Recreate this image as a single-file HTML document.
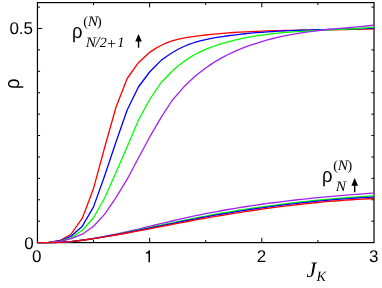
<!DOCTYPE html>
<html><head><meta charset="utf-8"><title>plot</title>
<style>
html,body{margin:0;padding:0;background:#fff;}
body{width:382px;height:288px;overflow:hidden;position:relative;font-family:"Liberation Sans",sans-serif;color:#000;text-rendering:geometricPrecision;}
svg{position:absolute;left:0;top:0;}
.t{position:absolute;line-height:1;white-space:nowrap;}
.r{font-family:"Liberation Serif",serif;font-style:normal;}
</style></head><body>
<svg width="382" height="288" viewBox="0 0 382 288">
<rect x="0" y="0" width="382" height="288" fill="#fff"/>
<rect x="37.45" y="2.6" width="336.55" height="240.0" fill="none" stroke="#000" stroke-width="1.2"/>
<path d="M37.45,221.19h2.6 M374.0,221.19h-2.6 M37.45,199.78h2.6 M374.0,199.78h-2.6 M37.45,178.37h2.6 M374.0,178.37h-2.6 M37.45,156.96h2.6 M374.0,156.96h-2.6 M37.45,135.55h2.6 M374.0,135.55h-2.6 M37.45,114.14h2.6 M374.0,114.14h-2.6 M37.45,92.73h2.6 M374.0,92.73h-2.6 M37.45,71.32h2.6 M374.0,71.32h-2.6 M37.45,49.91h2.6 M374.0,49.91h-2.6 M37.45,28.50h4.8 M374.0,28.50h-4.8 M37.45,7.09h2.6 M374.0,7.09h-2.6 M93.54,242.6v-2.6 M93.54,2.6v2.6 M149.63,242.6v-4.8 M149.63,2.6v4.8 M205.72,242.6v-2.6 M205.72,2.6v2.6 M261.81,242.6v-4.8 M261.81,2.6v4.8 M317.90,242.6v-2.6 M317.90,2.6v2.6" stroke="#000" stroke-width="1" fill="none"/>
<g fill="none" stroke-width="1.3" stroke-linejoin="round" stroke-linecap="butt">
<path d="M37.45,242.60 L48.67,242.30 L59.89,240.50 L71.10,234.20 L82.32,218.20 L93.54,188.40 L104.76,147.00 L115.98,107.30 L127.19,78.50 L138.41,62.70 L149.63,52.34 L155.24,48.65 L160.85,45.50 L166.46,42.92 L172.07,40.89 L177.68,39.32 L183.28,38.10 L188.89,37.14 L194.50,36.35 L200.11,35.64 L205.72,34.99 L211.33,34.40 L216.94,33.86 L222.55,33.36 L228.16,32.92 L233.77,32.52 L239.37,32.17 L244.98,31.85 L250.59,31.57 L256.20,31.32 L261.81,31.10 L267.42,30.91 L273.03,30.75 L278.64,30.61 L284.25,30.48 L289.86,30.38 L295.46,30.28 L301.07,30.20 L306.68,30.12 L312.29,30.05 L317.90,29.98 L323.51,29.92 L329.12,29.84 L334.73,29.76 L340.34,29.68 L345.95,29.58 L351.55,29.46 L357.16,29.33 L362.77,29.17 L368.38,29.00 L373.99,28.79 L374.00,28.79" stroke="#ff0000"/>
<path d="M37.45,242.60 L48.67,242.40 L59.89,241.00 L71.10,236.20 L82.32,226.20 L93.54,206.90 L104.76,175.50 L115.98,142.00 L127.19,110.00 L138.41,87.00 L149.63,72.00 L160.85,60.60 L166.46,56.44 L172.07,52.77 L177.68,49.52 L183.28,46.76 L188.89,44.44 L194.50,42.49 L200.11,40.88 L205.72,39.53 L211.33,38.40 L216.94,37.42 L222.55,36.56 L228.16,35.76 L233.77,35.03 L239.37,34.37 L244.98,33.76 L250.59,33.22 L256.20,32.72 L261.81,32.28 L267.42,31.88 L273.03,31.53 L278.64,31.21 L284.25,30.92 L289.86,30.67 L295.46,30.45 L301.07,30.25 L306.68,30.06 L312.29,29.90 L317.90,29.75 L323.51,29.60 L329.12,29.47 L334.73,29.33 L340.34,29.19 L345.95,29.05 L351.55,28.89 L357.16,28.73 L362.77,28.54 L368.38,28.34 L373.99,28.11 L374.00,28.11" stroke="#0000ff"/>
<path d="M37.45,242.60 L48.67,242.40 L59.89,241.30 L71.10,237.90 L82.32,230.30 L93.54,217.80 L104.76,197.70 L115.98,172.50 L127.19,146.70 L138.41,120.30 L149.63,99.50 L160.85,83.00 L172.07,71.27 L177.68,66.32 L183.28,61.92 L188.89,58.09 L194.50,54.76 L200.11,51.88 L205.72,49.37 L211.33,47.17 L216.94,45.24 L222.55,43.49 L228.16,41.90 L233.77,40.45 L239.37,39.14 L244.98,37.95 L250.59,36.89 L256.20,35.94 L261.81,35.09 L267.42,34.34 L273.03,33.67 L278.64,33.08 L284.25,32.56 L289.86,32.11 L295.46,31.71 L301.07,31.35 L306.68,31.04 L312.29,30.75 L317.90,30.48 L323.51,30.22 L329.12,29.97 L334.73,29.72 L340.34,29.45 L345.95,29.16 L351.55,28.85 L357.16,28.49 L362.77,28.09 L368.38,27.64 L373.99,27.13 L374.00,27.13" stroke="#00ff00"/>
<path d="M37.45,242.60 L48.67,242.40 L59.89,241.50 L71.10,238.70 L82.32,234.20 L93.54,226.20 L104.76,214.10 L115.98,197.70 L127.19,179.20 L138.41,158.00 L149.63,137.20 L160.85,117.90 L172.07,100.50 L183.28,87.57 L188.89,81.99 L194.50,76.85 L200.11,72.20 L205.72,67.95 L211.33,64.09 L216.94,60.57 L222.55,57.38 L228.16,54.47 L233.77,51.82 L239.37,49.41 L244.98,47.19 L250.59,45.15 L256.20,43.27 L261.81,41.54 L267.42,39.95 L273.03,38.50 L278.64,37.18 L284.25,35.97 L289.86,34.87 L295.46,33.86 L301.07,32.95 L306.68,32.12 L312.29,31.36 L317.90,30.66 L323.51,30.02 L329.12,29.43 L334.73,28.86 L340.34,28.33 L345.95,27.82 L351.55,27.31 L357.16,26.80 L362.77,26.29 L368.38,25.76 L373.99,25.20 L374.00,25.20" stroke="#a020f0"/>
<path d="M37.45,242.60 L48.67,242.55 L59.89,242.30 L71.10,241.60 L82.32,240.20 L87.93,239.37 L93.54,238.42 L99.15,237.42 L104.76,236.35 L110.37,235.23 L115.98,234.06 L121.58,232.85 L127.19,231.60 L132.80,230.32 L138.41,229.01 L144.02,227.68 L149.63,226.35 L155.24,225.00 L160.85,223.66 L166.46,222.33 L172.07,221.00 L177.67,219.70 L183.28,218.42 L188.89,217.18 L194.50,215.97 L200.11,214.80 L205.72,213.67 L211.33,212.57 L216.94,211.52 L222.55,210.49 L228.16,209.51 L233.76,208.55 L239.37,207.63 L244.98,206.74 L250.59,205.88 L256.20,205.05 L261.81,204.25 L267.42,203.48 L273.03,202.74 L278.64,202.02 L284.25,201.33 L289.85,200.66 L295.46,200.02 L301.07,199.40 L306.68,198.80 L312.29,198.22 L317.90,197.67 L323.51,197.13 L329.12,196.62 L334.73,196.12 L340.34,195.63 L345.94,195.17 L351.55,194.72 L357.16,194.28 L362.77,193.86 L368.38,193.44 L373.99,193.05 L374.00,193.04" stroke="#a020f0"/>
<path d="M37.45,242.60 L48.67,242.55 L59.89,242.30 L71.10,241.60 L82.32,240.24 L87.93,239.43 L93.54,238.53 L99.15,237.60 L104.76,236.62 L110.37,235.60 L115.98,234.54 L121.58,233.44 L127.19,232.32 L132.80,231.17 L138.41,230.00 L144.02,228.81 L149.63,227.61 L155.24,226.40 L160.85,225.20 L166.46,223.99 L172.07,222.80 L177.67,221.61 L183.28,220.44 L188.89,219.30 L194.50,218.18 L200.11,217.09 L205.72,216.02 L211.33,214.98 L216.94,213.97 L222.55,212.99 L228.16,212.03 L233.76,211.10 L239.37,210.19 L244.98,209.31 L250.59,208.46 L256.20,207.63 L261.81,206.82 L267.42,206.05 L273.03,205.29 L278.64,204.57 L284.25,203.86 L289.85,203.19 L295.46,202.53 L301.07,201.91 L306.68,201.30 L312.29,200.72 L317.90,200.17 L323.51,199.63 L329.12,199.12 L334.73,198.64 L340.34,198.18 L345.94,197.74 L351.55,197.32 L357.16,196.93 L362.77,196.56 L368.38,196.21 L373.99,195.89 L374.00,195.89" stroke="#00ff00"/>
<path d="M37.45,242.60 L48.67,242.55 L59.89,242.30 L71.10,241.60 L82.32,240.25 L87.93,239.45 L93.54,238.58 L99.15,237.68 L104.76,236.73 L110.37,235.75 L115.98,234.74 L121.58,233.69 L127.19,232.61 L132.80,231.51 L138.41,230.40 L144.02,229.26 L149.63,228.12 L155.24,226.97 L160.85,225.82 L166.46,224.66 L172.07,223.52 L177.67,222.38 L183.28,221.26 L188.89,220.15 L194.50,219.07 L200.11,218.01 L205.72,216.97 L211.33,215.95 L216.94,214.96 L222.55,213.99 L228.16,213.04 L233.76,212.12 L239.37,211.22 L244.98,210.35 L250.59,209.49 L256.20,208.67 L261.81,207.86 L267.42,207.08 L273.03,206.33 L278.64,205.60 L284.25,204.89 L289.85,204.21 L295.46,203.55 L301.07,202.92 L306.68,202.31 L312.29,201.73 L317.90,201.18 L323.51,200.65 L329.12,200.14 L334.73,199.66 L340.34,199.21 L345.94,198.78 L351.55,198.38 L357.16,198.00 L362.77,197.65 L368.38,197.33 L373.99,197.03 L374.00,197.03" stroke="#0000ff"/>
<path d="M37.45,242.60 L48.67,242.55 L59.89,242.30 L71.10,241.60 L82.32,240.27 L87.93,239.49 L93.54,238.64 L99.15,237.78 L104.76,236.88 L110.37,235.95 L115.98,234.99 L121.58,234.00 L127.19,232.99 L132.80,231.96 L138.41,230.91 L144.02,229.85 L149.63,228.78 L155.24,227.69 L160.85,226.61 L166.46,225.53 L172.07,224.44 L177.67,223.37 L183.28,222.30 L188.89,221.25 L194.50,220.21 L200.11,219.19 L205.72,218.18 L211.33,217.20 L216.94,216.23 L222.55,215.28 L228.16,214.35 L233.76,213.44 L239.37,212.55 L244.98,211.68 L250.59,210.83 L256.20,210.00 L261.81,209.20 L267.42,208.42 L273.03,207.66 L278.64,206.92 L284.25,206.21 L289.85,205.53 L295.46,204.86 L301.07,204.23 L306.68,203.62 L312.29,203.04 L317.90,202.48 L323.51,201.95 L329.12,201.45 L334.73,200.98 L340.34,200.53 L345.94,200.12 L351.55,199.73 L357.16,199.38 L362.77,199.06 L368.38,198.76 L373.99,198.50 L374.00,198.50" stroke="#ff0000"/>
</g>
<g fill="#000" stroke="none">
<path d="M138.55,34 L141.85,41.6 H139.25 V47.8 H137.85 V41.6 H135.25 Z"/>
<path d="M150,250.3 V262.3 H148.5 V253.6 H145.8 V252.5 Q148.4,252.4 148.9,250.3 Z"/>
<path d="M354.7,178.1 L358.05,185.7 H355.4 V192.2 H354.0 V185.7 H351.35 Z"/>
</g>
</svg>
<div id="txt" style="position:absolute;left:0;top:0;width:382px;height:288px;will-change:transform;filter:grayscale(1);">
<div class="t" id="t05" style="left:9.39px;top:19.86px;font-size:17px;">0.5</div>
<div class="t" id="ty0" style="left:24.18px;top:234.88px;font-size:17px;">0</div>
<div class="t" id="tx0" style="left:31.99px;top:247.96px;font-size:17px;">0</div>
<div class="t" id="tx2" style="left:256.83px;top:248.49px;font-size:17px;">2</div>
<div class="t" id="tx3" style="left:369.08px;top:247.87px;font-size:17px;">3</div>
<div class="t" id="yl" style="left:2.83px;top:89.14px;font-size:20.5px;transform:rotate(-90deg) scaleX(0.9);transform-origin:0 0;">ρ</div>
<div class="t" id="rho1" style="left:72.17px;top:21.52px;font-size:20.5px;transform:scaleX(0.9);transform-origin:0 0;">ρ</div>
<div class="t" id="s1a" style="left:83.32px;top:16.39px;font-size:14px;font-family:'Liberation Serif',serif;">(</div>
<div class="t" id="s1b" style="left:88.33px;top:14.89px;font-size:14.5px;transform:scaleX(1.06);font-family:'Liberation Serif',serif;font-style:italic;">N</div>
<div class="t" id="s1c" style="left:97.07px;top:16.22px;font-size:14px;font-family:'Liberation Serif',serif;">)</div>
<div class="t" id="b1a" style="left:85.93px;top:36.15px;font-size:14.5px;transform:scaleX(1.06);font-family:'Liberation Serif',serif;font-style:italic;">N</div>
<div class="t" id="b1b" style="left:95.28px;top:35.48px;font-size:15.5px;font-family:'Liberation Serif',serif;font-style:italic;">/</div>
<div class="t" id="b1c" style="left:99.81px;top:37.22px;font-size:14px;font-family:'Liberation Serif',serif;font-style:italic;">2</div>
<div class="t" id="b1d" style="left:105.93px;top:36.58px;font-size:16px;font-family:'Liberation Serif',serif;font-style:italic;">+</div>
<div class="t" id="b1e" style="left:117.30px;top:36.11px;font-size:14.5px;font-family:'Liberation Serif',serif;font-style:italic;">1</div>
<div class="t" id="rho2" style="left:322.02px;top:166.29px;font-size:20.5px;transform:scaleX(0.9);transform-origin:0 0;">ρ</div>
<div class="t" id="s2a" style="left:333.34px;top:160.02px;font-size:14px;font-family:'Liberation Serif',serif;">(</div>
<div class="t" id="s2b" style="left:337.84px;top:158.66px;font-size:14.5px;transform:scaleX(1.06);font-family:'Liberation Serif',serif;font-style:italic;">N</div>
<div class="t" id="s2c" style="left:347.61px;top:159.70px;font-size:14px;font-family:'Liberation Serif',serif;">)</div>
<div class="t" id="sub2" style="left:335.82px;top:179.90px;font-size:14.5px;transform:scaleX(1.06);font-family:'Liberation Serif',serif;font-style:italic;">N</div>
<div class="t" id="tJ" style="left:306.50px;top:259.38px;font-size:22px;font-family:'Liberation Serif',serif;font-style:italic;">J</div>
<div class="t" id="tK" style="left:316.50px;top:270.25px;font-size:14.2px;font-family:'Liberation Serif',serif;font-style:italic;">K</div>
</div>
</body></html>
